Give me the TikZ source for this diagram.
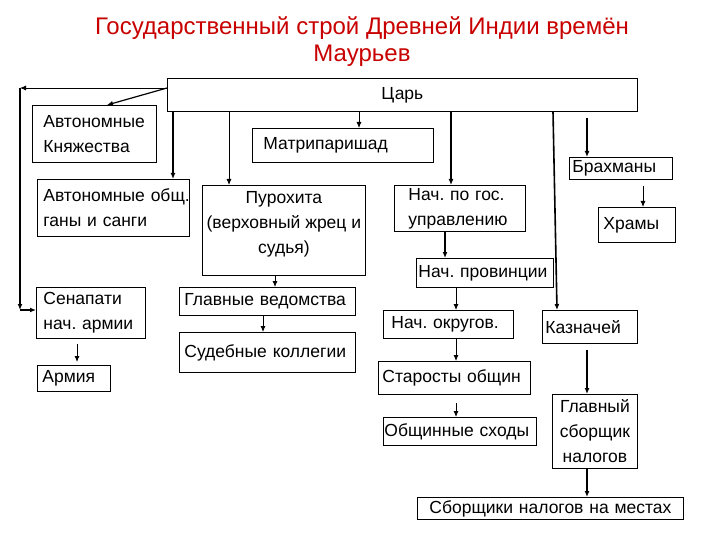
\documentclass[tikz,border=0pt]{standalone}
\usepackage{fontspec}
\setmainfont{Liberation Sans}
\usepackage{xcolor}
\usepackage{tikz}
\usetikzlibrary{arrows.meta}

\definecolor{titlered}{RGB}{200,0,0}

\tikzset{
  blk/.style={draw, line width=0.8pt, anchor=north west, inner xsep=#1, inner ysep=0pt,
    align=left, font=\fontsize{17.5}{25}\selectfont},
  blk/.default=5pt,
  heavy/.style={line width=1.6pt},
  light/.style={line width=0.8pt},
  title/.style={align=center, text=titlered, font=\fontsize{24}{27}\selectfont}
}

\begin{document}
\begin{tikzpicture}[x=1pt, y=-1pt, >={Latex[length=6pt,width=5pt]}]
\useasboundingbox (0,0) rectangle (720,540);

\node[title] (title) at (362,41.5) {Государственный строй Древней Индии времён\\Маурьев};

% king
\node[blk, text width=460pt, minimum height=33pt, align=center] (tsar) at (167,78) {Царь};

% left column
\node[blk=11pt, text width=102pt, minimum height=57pt] (knyaz) at (32,105) {Автономные\\Княжества};
\node[blk=6pt, text width=140pt, minimum height=57pt] (obsch) at (37,179) {Автономные~общ.\\ганы~и~санги};
\node[blk=7pt, text width=95pt, minimum height=51pt] (senap) at (36,287) {Сенапати\\нач.~армии};
\node[blk, text width=63pt, minimum height=26pt] (armia) at (37,365) {Армия};

% middle column
\node[blk=11pt, text width=159pt, minimum height=34pt] (matri) at (252,128) {Матрипаришад};
\node[blk=3pt] (purohita) at (202,185)
  {\parbox[c][90pt][t]{157pt}{\centering\rule{0pt}{18pt}Пурохита\\(верховный~жрец~и\\судья)}};
\node[blk, text width=166pt, minimum height=28pt] (glved) at (179,287) {Главные~ведомства};
\node[blk, text width=166pt, minimum height=40pt] (sudkol) at (179,332) {Судебные~коллегии};

% administration
\node[blk=14pt, text width=103pt, minimum height=46pt] (nachgos) at (394,185) {Нач.~по~гос.\\управлению};
\node[blk=2pt, text width=133pt, minimum height=29pt] (prov) at (416,258) {Нач.~провинции};
\node[blk=8pt, text width=114pt, minimum height=28pt] (okrug) at (383,310) {Нач.~округов.};
\node[blk=4pt, text width=144pt, minimum height=33pt] (starost) at (378,361) {Старосты~общин};
\node[blk=1pt, text width=151pt, minimum height=28pt] (shody) at (383,417) {Общинные~сходы};

% right column
\node[blk=3pt, text width=97pt, minimum height=22pt] (brahm) at (569,157) {Брахманы};
\node[blk, text width=67pt, minimum height=35pt] (hramy) at (598,207) {Храмы};
\node[blk=3pt, text width=89pt, minimum height=33pt] (kazn) at (542,310) {Казначей};
\node[blk=3pt, text width=79pt, minimum height=74pt, align=center] (glsbor) at (552,394) {Главный\\сборщик\\налогов};
\node[blk, text width=256pt, minimum height=22pt, align=center] (sborm) at (417,497) {Сборщики~налогов~на~местах};

% loop round the left side
\coordinate (corner) at (20,88);
\coordinate (foot) at (20,310);
\draw[->, light] (tsar.west |- corner) -- (corner);
\draw[->, heavy] (corner) -- (foot);
\draw[->, heavy] (foot) -- (senap.west |- foot);

% from the king
\draw[->, line width=1.2pt] (tsar.west |- corner) -- (knyaz.north -| 107,0);
\draw[->, heavy] (tsar.south -| 173,0) -- (obsch.north -| 173,0);
\draw[->, light] (tsar.south -| 229,0) -- (purohita.north -| 229,0);
\draw[->, light] (tsar.south -| 359,0) -- (matri.north -| 359,0);
\draw[->, heavy] (tsar.south -| 451,0) -- (nachgos.north -| 451,0);
\draw[->, heavy] (tsar.south -| 553,0) -- (kazn.north -| 557,0);
\draw[->, heavy, shorten <=6pt] (tsar.south -| 587,0) -- (brahm.north -| 587,0);

% lower links
\draw[->, light, shorten <=6pt] (brahm.south -| 643,0) -- (hramy.north -| 643,0);
\draw[->, heavy] (nachgos.south -| 445,0) -- (prov.north -| 445,0);
\draw[->, light] (prov.south -| 456,0) -- (okrug.north -| 456,0);
\draw[->, light] (okrug.south -| 456,0) -- (starost.north -| 456,0);
\draw[->, light, shorten <=8pt] (starost.south -| 456,0) -- (shody.north -| 456,0);
\draw[->, heavy, shorten <=6pt] (kazn.south -| 587,0) -- (glsbor.north -| 587,0);
\draw[->, heavy] (glsbor.south -| 587,0) -- (sborm.north -| 587,0);
\draw[->, light] (purohita.south -| 275,0) -- (glved.north -| 275,0);
\draw[->, light] (glved.south -| 263,0) -- (sudkol.north -| 263,0);
\draw[->, light, shorten <=5pt, shorten >=3pt] (senap.south -| 77,0) -- (armia.north -| 77,0);
\end{tikzpicture}
\end{document}
